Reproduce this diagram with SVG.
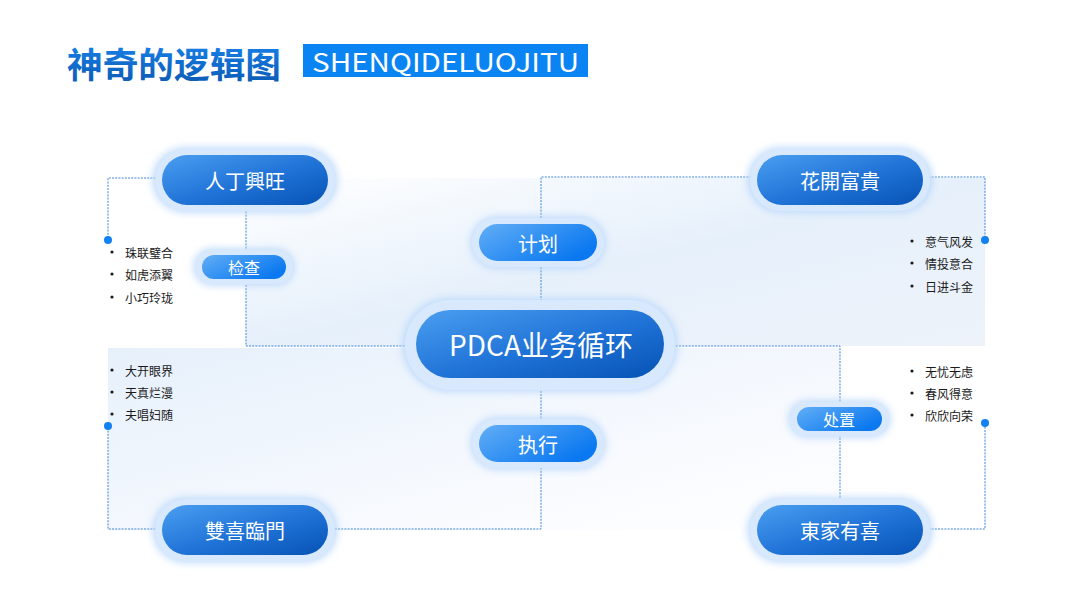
<svg xmlns="http://www.w3.org/2000/svg" width="1080" height="608" viewBox="0 0 1080 608">
  <defs>
    <linearGradient id="titleGrad" x1="0" y1="0" x2="0" y2="1">
      <stop offset="0" stop-color="#1a86f0"/>
      <stop offset="1" stop-color="#0a58b0"/>
    </linearGradient>
    <linearGradient id="bigGrad" x1="0" y1="0" x2="1" y2="1">
      <stop offset="0" stop-color="#4a9ef0"/>
      <stop offset="0.55" stop-color="#1f72d6"/>
      <stop offset="1" stop-color="#0652b4"/>
    </linearGradient>
    <linearGradient id="smallGrad" x1="0" y1="0" x2="1" y2="0.6">
      <stop offset="0" stop-color="#62aef6"/>
      <stop offset="1" stop-color="#0a78f0"/>
    </linearGradient>
    <linearGradient id="panelTop" x1="0" y1="0" x2="1" y2="1">
      <stop offset="0" stop-color="#ffffff"/>
      <stop offset="0.5" stop-color="#e6f0fb"/>
      <stop offset="1" stop-color="#eef3fa"/>
    </linearGradient>
    <linearGradient id="panelBot" x1="0" y1="0" x2="1" y2="1">
      <stop offset="0" stop-color="#e6f0fb"/>
      <stop offset="0.6" stop-color="#f6f9fe"/>
      <stop offset="1" stop-color="#ffffff"/>
    </linearGradient>
    <filter id="glow" x="-30%" y="-60%" width="160%" height="220%">
      <feGaussianBlur stdDeviation="4"/>
    </filter>
  </defs>
  <style>
    .conn { fill: none; stroke: #3d84d8; stroke-width: 1; stroke-dasharray: 2 1.2; }
    .dot { fill: #1282f2; }
    .halo { fill: #b7d6fb; filter: url(#glow); }
    .ring { fill: #d8e9fd; }
    .big { fill: url(#bigGrad); }
    .small { fill: url(#smallGrad); }
    .lbl { fill: #ffffff; font-family: "Noto Sans CJK SC", "Noto Sans", sans-serif; text-anchor: middle; dominant-baseline: central; }
    .item { fill: #1a1a1a; font-family: "Noto Sans CJK SC", sans-serif; font-size: 12px; dominant-baseline: central; }
    .bul { fill: #1a1a1a; }
  </style>

  <rect width="1080" height="608" fill="#ffffff"/>

  <!-- title -->
  <g id="title">
    <text x="67" y="62" font-family="Noto Sans CJK SC, sans-serif" font-weight="bold" font-size="35" fill="url(#titleGrad)" dominant-baseline="central" textLength="214" lengthAdjust="spacingAndGlyphs">神奇的逻辑图</text>
    <rect x="303" y="44" width="285" height="33" fill="#0a84f2"/>
    <text x="312" y="61" font-family="Noto Sans CJK SC, sans-serif" font-size="25" fill="#ffffff" dominant-baseline="central" textLength="267" lengthAdjust="spacingAndGlyphs">SHENQIDELUOJITU</text>
  </g>

  <!-- background panels -->
  <rect x="246" y="178" width="739" height="168" fill="url(#panelTop)"/>
  <rect x="108" y="348" width="732" height="182" fill="url(#panelBot)"/>

  <!-- connectors -->
  <g id="connectors">
    <path class="conn" d="M162 178 H108 V240"/>
    <path class="conn" d="M246 205 V346 H418"/>
    <path class="conn" d="M758 177 H541 V310"/>
    <path class="conn" d="M922 177 H985 V240"/>
    <path class="conn" d="M663 346 H840 V505"/>
    <path class="conn" d="M922 529 H985 V423"/>
    <path class="conn" d="M541 378 V529 H326"/>
    <path class="conn" d="M162 529 H108 V426"/>
    <circle class="dot" cx="108" cy="240" r="4"/>
    <circle class="dot" cx="985" cy="240" r="4"/>
    <circle class="dot" cx="985" cy="423" r="4"/>
    <circle class="dot" cx="108" cy="426" r="4"/>
  </g>

  <!-- nodes -->
  <g id="node-rdxw">
    <rect class="halo" x="153" y="148" width="184" height="64" rx="32"/>
    <rect class="ring" x="155" y="149" width="180" height="62" rx="31"/>
    <rect class="big" x="162" y="155" width="166" height="50" rx="25"/>
    <text class="lbl" x="245" y="180" font-size="20">人丁興旺</text>
  </g>
  <g id="node-hkfg">
    <rect class="halo" x="748" y="148" width="184" height="64" rx="32"/>
    <rect class="ring" x="750" y="149" width="180" height="62" rx="31"/>
    <rect class="big" x="757" y="155" width="166" height="50" rx="25"/>
    <text class="lbl" x="840" y="180" font-size="20">花開富貴</text>
  </g>
  <g id="node-sxlm">
    <rect class="halo" x="153" y="498" width="184" height="64" rx="32"/>
    <rect class="ring" x="155" y="499" width="180" height="62" rx="31"/>
    <rect class="big" x="162" y="505" width="166" height="50" rx="25"/>
    <text class="lbl" x="245" y="530" font-size="20">雙喜臨門</text>
  </g>
  <g id="node-djyx">
    <rect class="halo" x="748" y="498" width="184" height="64" rx="32"/>
    <rect class="ring" x="750" y="499" width="180" height="62" rx="31"/>
    <rect class="big" x="757" y="505" width="166" height="50" rx="25"/>
    <text class="lbl" x="840" y="530" font-size="20">東家有喜</text>
  </g>
  <g id="node-pdca">
    <rect class="halo" x="403" y="299" width="274" height="92" rx="46"/>
    <rect class="ring" x="405" y="300" width="270" height="90" rx="45"/>
    <rect class="big" x="416" y="310" width="248" height="68" rx="34"/>
    <text class="lbl" x="541" y="344" font-size="28">PDCA业务循环</text>
  </g>
  <g id="node-jihua">
    <rect class="halo" x="471" y="217" width="134" height="51" rx="25.5"/>
    <rect class="ring" x="472" y="218" width="132" height="49" rx="24.5"/>
    <rect class="small" x="479" y="224" width="118" height="37" rx="18.5"/>
    <text class="lbl" x="538" y="243" font-size="20">计划</text>
  </g>
  <g id="node-zhixing">
    <rect class="halo" x="471" y="418" width="134" height="51" rx="25.5"/>
    <rect class="ring" x="472" y="419" width="132" height="49" rx="24.5"/>
    <rect class="small" x="479" y="425" width="118" height="37" rx="18.5"/>
    <text class="lbl" x="538" y="444" font-size="20">执行</text>
  </g>
  <g id="node-jiancha">
    <rect class="halo" x="194" y="249" width="100" height="36" rx="18"/>
    <rect class="ring" x="195" y="250" width="98" height="34" rx="17"/>
    <rect class="small" x="202" y="255" width="84" height="24" rx="12"/>
    <text class="lbl" x="244" y="267" font-size="16">检查</text>
  </g>
  <g id="node-chuzhi">
    <rect class="halo" x="789" y="401" width="101" height="36" rx="18"/>
    <rect class="ring" x="790" y="402" width="99" height="34" rx="17"/>
    <rect class="small" x="797" y="407" width="85" height="24" rx="12"/>
    <text class="lbl" x="839" y="419" font-size="16">处置</text>
  </g>

  <!-- bullet lists -->
  <g id="list-tl">
    <circle class="bul" cx="112" cy="252" r="1.6"/><text class="item" x="125" y="252">珠联璧合</text>
    <circle class="bul" cx="112" cy="274" r="1.6"/><text class="item" x="125" y="274">如虎添翼</text>
    <circle class="bul" cx="112" cy="297" r="1.6"/><text class="item" x="125" y="297">小巧玲珑</text>
  </g>
  <g id="list-bl">
    <circle class="bul" cx="112" cy="370" r="1.6"/><text class="item" x="125" y="370">大开眼界</text>
    <circle class="bul" cx="112" cy="392" r="1.6"/><text class="item" x="125" y="392">天真烂漫</text>
    <circle class="bul" cx="112" cy="414" r="1.6"/><text class="item" x="125" y="414">夫唱妇随</text>
  </g>
  <g id="list-tr">
    <circle class="bul" cx="912" cy="241" r="1.6"/><text class="item" x="925" y="241">意气风发</text>
    <circle class="bul" cx="912" cy="263" r="1.6"/><text class="item" x="925" y="263">情投意合</text>
    <circle class="bul" cx="912" cy="286" r="1.6"/><text class="item" x="925" y="286">日进斗金</text>
  </g>
  <g id="list-br">
    <circle class="bul" cx="912" cy="371" r="1.6"/><text class="item" x="925" y="371">无忧无虑</text>
    <circle class="bul" cx="912" cy="393" r="1.6"/><text class="item" x="925" y="393">春风得意</text>
    <circle class="bul" cx="912" cy="415" r="1.6"/><text class="item" x="925" y="415">欣欣向荣</text>
  </g>
</svg>
